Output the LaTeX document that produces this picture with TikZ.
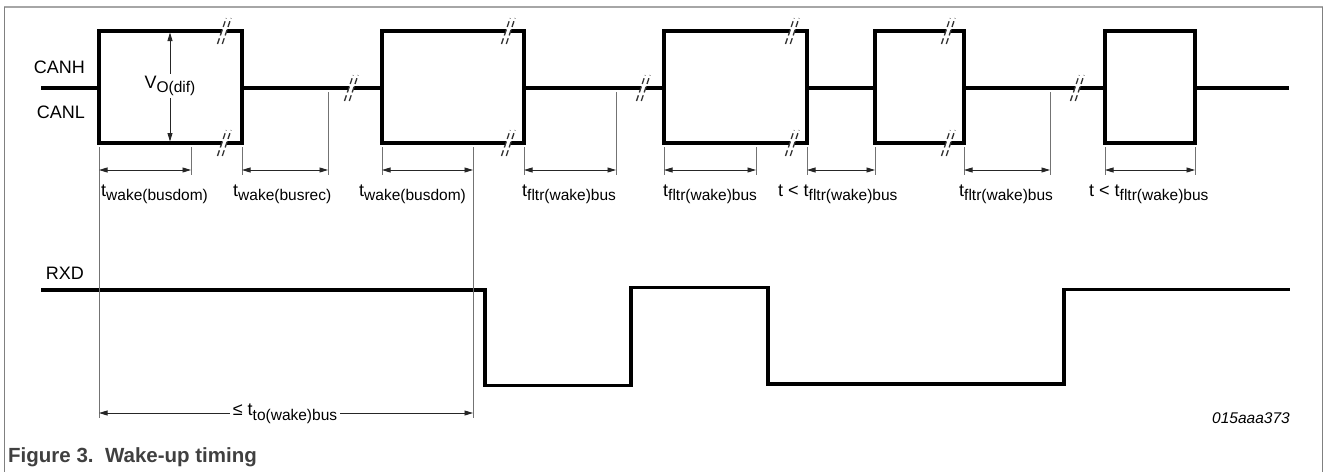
\documentclass[tikz,border=0pt]{standalone}
\usepackage{fontspec}
\setmainfont{Liberation Sans}
\usetikzlibrary{arrows.meta, positioning}
\newcommand{\lblfont}{\fontsize{18}{20}\selectfont}
\newcommand{\lsub}[1]{\raisebox{-4.5pt}{\fontsize{15.5}{17}\selectfont #1}}
\newcommand{\cutmark}[2]{%
\fill[white] (#1-1.3,#2-2.2) -- (#1+3.4,#2-2.2) -- (#1+1.9,#2+2.2) -- (#1-2.8,#2+2.2) -- cycle;
\draw[cutline] (#1-6.5,#2+13) -- (#1+2.2,#2-13);
\draw[cutline] (#1-1.7,#2+13) -- (#1+7,#2-13);
}
\tikzset{
sig/.style={line width=3.1pt, line join=miter},
tick/.style={draw=black!55, line width=1pt},
dim/.style={{Triangle[length=8.5pt,width=5pt]}-{Triangle[length=8.5pt,width=5pt]}, line width=0.9pt, black!85},
cutline/.style={line width=1.3pt, black!80, dash pattern=on 6pt off 3pt},
lbl/.style={font=\lblfont, inner sep=0pt, anchor=base west},
signame/.style={font=\lblfont, inner sep=0pt, anchor=base east}
}
\begin{document}
\begin{tikzpicture}[x=1pt,y=-1pt]
	\useasboundingbox (0,0) rectangle (1326,472);
	\draw[black!35, line width=2pt] (4,7) -- (1323,7);
	\draw[black!50, line width=1.2pt] (4.5,7) -- (4.5,472);
	\draw[black!50, line width=1.2pt] (1322.5,7) -- (1322.5,472);
	% bus signal
	\draw[sig] (41,88) -- (99,88);
	\draw[sig] (99,31) rectangle (242,143);
	\draw[sig] (242,88) -- (382,88);
	\draw[sig] (382,31) rectangle (524,143);
	\draw[sig] (524,88) -- (664,88);
	\draw[sig] (664,31) rectangle (807,143);
	\draw[sig] (807,88) -- (875,88);
	\draw[sig] (875,31) rectangle (964,143);
	\draw[sig] (964,88) -- (1105,88);
	\draw[sig] (1105,31) rectangle (1195,143);
	\draw[sig] (1195,88) -- (1289,88);
	\foreach \x in {224,508,792,948} {\cutmark{\x}{31} \cutmark{\x}{143}}
	\foreach \x in {351,643,1077} {\cutmark{\x}{88}}
	% RXD
	\draw[sig] (41,290) -- (485,290) -- (485,385.5) -- (631,385.5) -- (631,287.5)
	-- (768,287.5) -- (768,384) -- (1064,384) -- (1064,289.5) -- (1290,289.5);
	\node[signame] (canh) at (85,73) {CANH};
	\node[signame] (canl) at (85,118) {CANL};
	\node[signame] (rxd) at (84,279) {RXD};
	% ticks
	\foreach \x in {191,242,382,524,664,756,807,875,964,1105,1195}
	\draw[tick] (\x,147) -- (\x,175);
	\foreach \x in {328,616,1050}
	\draw[tick] (\x,92) -- (\x,175);
	\foreach \x in {99,473}
	\draw[tick] (\x,147) -- (\x,418);
	% timing arrows
	\foreach \a/\b [count=\i] in {99/191,242/328,382/473,524/616,664/756,807/875,964/1050,1105/1195} {
	\coordinate (dl\i) at (\a,170);
	\coordinate (dr\i) at (\b,170);
	\draw[dim] (dl\i) -- (dr\i);
	}
	\node[lbl] (tw1) at (101,196) {t\lsub{wake(busdom)}};
	\node[lbl] (tw2) at (233,196) {t\lsub{wake(busrec)}};
	\node[lbl] (tw3) at (359,196) {t\lsub{wake(busdom)}};
	\node[lbl] (tf1) at (522,196) {t\lsub{fltr(wake)bus}};
	\node[lbl] (tf2) at (663,196) {t\lsub{fltr(wake)bus}};
	\node[lbl] (tf3) at (778,196) {t < t\lsub{fltr(wake)bus}};
	\node[lbl] (tf4) at (959,196) {t\lsub{fltr(wake)bus}};
	\node[lbl] (tf5) at (1089,196) {t < t\lsub{fltr(wake)bus}};
	% differential voltage
	\coordinate (vtop) at (170,32.5);
	\coordinate (vbot) at (170,141.5);
	\draw[dim] (vtop) -- (vbot);
	\node[fill=white, font=\lblfont, inner sep=2pt] (vod) at (170,86) {V\lsub{O(dif)}};
	% time-out
	\coordinate (tol) at (99,413);
	\coordinate (tor) at (473,413);
	\draw[dim] (tol) -- (tor);
	\node[fill=white, font=\lblfont, inner sep=3pt] (tto) at (285,414) {≤ t\lsub{to(wake)bus}};
	\node[font=\itshape\fontsize{15.5}{18}\selectfont, anchor=base east, inner sep=0pt] (code) at (1290,423) {015aaa373};
	\node[font=\bfseries\fontsize{20.5}{24}\selectfont, text=black!75, anchor=base west, inner sep=0pt] (cap) at (8,462) {Figure 3.\ \ Wake-up timing};
\end{tikzpicture}
\end{document}
